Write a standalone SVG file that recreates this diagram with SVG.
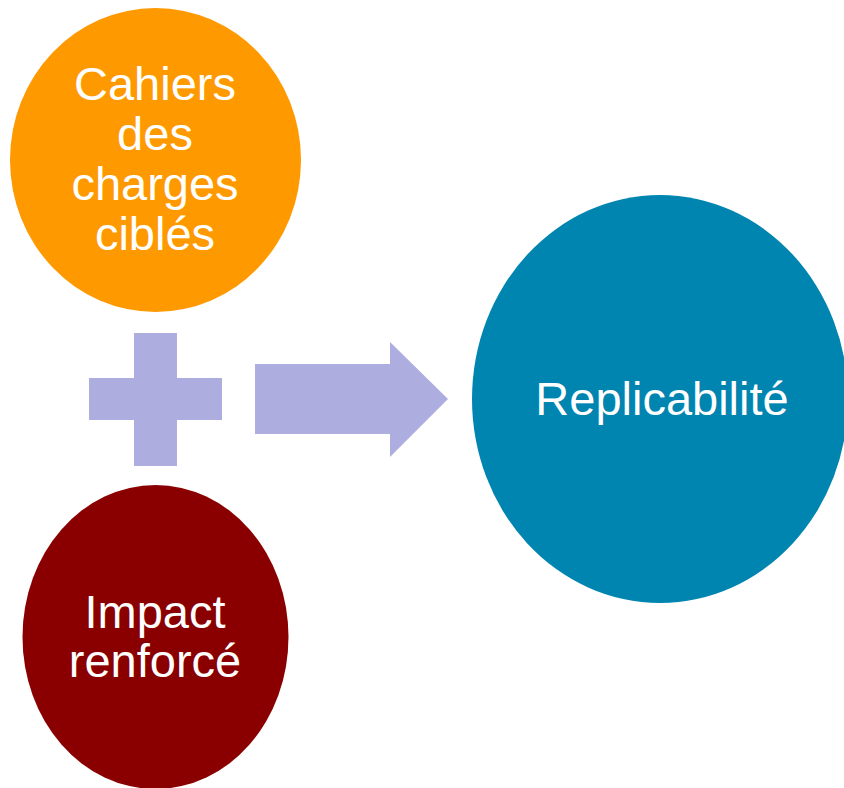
<svg xmlns="http://www.w3.org/2000/svg" width="844" height="788" viewBox="0 0 844 788">
<style>
.lbl{font-family:"Liberation Sans",Arial,sans-serif;font-size:47px;fill:#ffffff;text-anchor:middle}
.sym{fill:#ADADE0}
</style>
<rect width="844" height="788" fill="#ffffff"/>
<g id="node-cahiers">
<ellipse cx="155.5" cy="160" rx="145.5" ry="152" fill="#FF9900"/>
<text class="lbl"><tspan x="155" y="100">Cahiers</tspan><tspan x="155" y="150">des</tspan><tspan x="155" y="200">charges</tspan><tspan x="155" y="250">ciblés</tspan></text>
</g>
<g id="node-impact">
<ellipse cx="155.5" cy="637" rx="133" ry="152" fill="#8A0000"/>
<text class="lbl"><tspan x="155" y="628">Impact</tspan><tspan x="155" y="677">renforcé</tspan></text>
</g>
<g id="node-replicabilite">
<ellipse cx="660" cy="399" rx="188" ry="204" fill="#0084B0"/>
<text class="lbl" x="662" y="415">Replicabilité</text>
</g>
<g id="connectors">
<path class="sym" d="M134 333H177V378H222V420H177V466H134V420H89V378H134Z"/>
<path class="sym" d="M255 364H390V342L448 399L390 457V434H255Z"/>
</g>
</svg>
